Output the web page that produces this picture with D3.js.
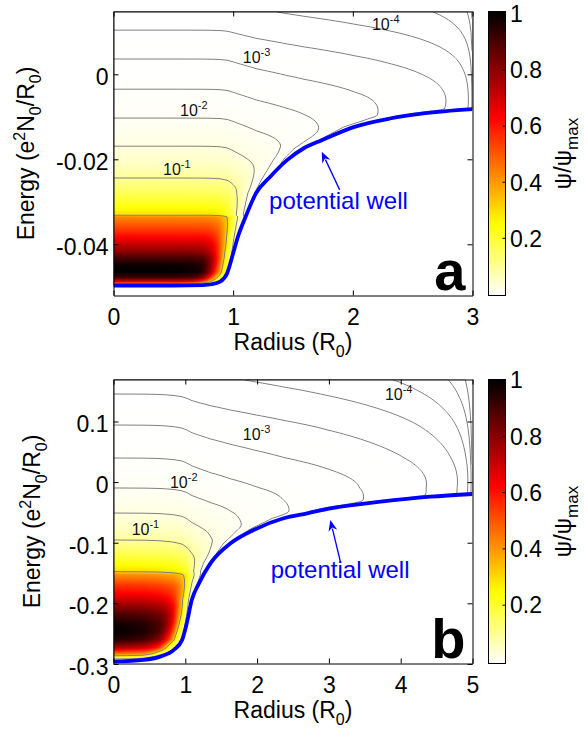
<!DOCTYPE html>
<html>
<head>
<meta charset="utf-8">
<script src="https://cdn.jsdelivr.net/npm/d3@7"></script>
<style>
  body { margin: 0; background: #fff; }
  svg { display: block; }
  text { font-family: "Liberation Sans", Arial, sans-serif; }
</style>
</head>
<body>
<svg id="fig" width="584" height="732"></svg>
<script>
// ---------------- data ----------------
const radiusTicksA = [0, 1, 2, 3];
const energyTicksA = [-0.04, -0.02, 0];
const radiusTicksB = [0, 1, 2, 3, 4, 5];
const energyTicksB = [-0.3, -0.2, -0.1, 0, 0.1];
const colorbarTicks = [0.2, 0.4, 0.6, 0.8, 1];
// contour levels, log10(psi/psi_max)
const contourLevels = [-5.5, -5, -4.5, -4, -3.5, -3, -2.5, -2, -1.5, -1, -0.5];
const labelledExponents = [-4, -3, -2, -1];

// potential well V(r): [radius (R0), energy (e^2 N0 / R0)]
const wellA = [
  [0, -0.0497], [0.5, -0.0497], [0.75, -0.0496], [0.82, -0.0494], [0.89, -0.0488],
  [0.95, -0.0468], [1.0, -0.0421], [1.04, -0.0382], [1.11, -0.0331], [1.19, -0.0280],
  [1.31, -0.0241], [1.45, -0.0202], [1.59, -0.0174], [1.74, -0.0155], [2.02, -0.0123],
  [2.31, -0.0104], [2.59, -0.0092], [3.0, -0.0082]
];
const wellB = [
  [0, -0.2964], [0.42, -0.2935], [0.65, -0.2880], [0.84, -0.2770], [0.955, -0.2606],
  [1.02, -0.2330], [1.09, -0.1946], [1.19, -0.1670], [1.35, -0.1340], [1.63, -0.1010],
  [1.95, -0.0790], [2.37, -0.0597], [2.7, -0.0515], [3.02, -0.0433], [3.72, -0.0323],
  [4.41, -0.0241], [5.0, -0.0196]
];

// psi/psi_max along the axis r = 0: [energy, psi]
const profileA = [
  [0.0172, 1e-4], [0.0104, 3.16e-4], [0.0036, 1e-3], [-0.0035, 3.16e-3], [-0.0103, 1e-2],
  [-0.0169, 3.16e-2], [-0.0244, 0.1], [-0.0272, 0.15], [-0.0296, 0.2], [-0.0319, 0.26],
  [-0.0331, 0.30], [-0.0335, 0.42], [-0.0355, 0.5], [-0.0378, 0.6], [-0.0402, 0.72],
  [-0.0418, 0.8], [-0.0432, 0.9], [-0.0449, 0.98], [-0.0465, 1.0], [-0.0479, 0.9],
  [-0.0489, 0.65], [-0.0493, 0.35], [-0.0497, 0.01]
];
const profileB = [
  [0.197, 1e-4], [0.1454, 3.16e-4], [0.0942, 1e-3], [0.0398, 3.16e-3], [-0.0097, 1e-2],
  [-0.0510, 3.16e-2], [-0.0955, 0.1], [-0.1203, 0.18], [-0.1368, 0.25], [-0.1467, 0.30],
  [-0.1532, 0.42], [-0.1698, 0.55], [-0.1863, 0.65], [-0.2028, 0.78], [-0.2193, 0.9],
  [-0.2358, 0.98], [-0.2474, 1.0], [-0.2606, 0.95], [-0.2738, 0.75], [-0.2837, 0.45],
  [-0.2903, 0.2], [-0.2964, 0.01]
];

// ---------------- layout ----------------
const panels = [
  {
    letter: "a", well: wellA, profile: profileA, rTicks: radiusTicksA, eTicks: energyTicksA,
    rMax: 3, eDomain: [-0.05205, 0.01478],
    box: { x0: 113.5, x1: 472.5, y0: 11.5, y1: 295.5 },
    falloff: { p: 0.6, c: 0.005, s: 55, uc: 0.005, us: 0.0018,
               r0: 0.95, soft: 0.08, q: 0.575, wr: 0.13, floor: 0.3 },
    labelAt: [[2.16, 0.0104], [1.08, 0.0027], [0.556, -0.0099], [0.414, -0.0237]],
    wellTextAt: [1.30, -0.0317], arrowFrom: [1.89, -0.0272], arrowTo: [1.74, -0.0182],
    ylabelX: 34, xlabelY: 350, cbRange: [294.4, 14]
  },
  {
    letter: "b", well: wellB, profile: profileB, rTicks: radiusTicksB, eTicks: energyTicksB,
    rMax: 5, eDomain: [-0.2993, 0.1693],
    box: { x0: 113.5, x1: 472.5, y0: 379.5, y1: 663.5 },
    falloff: { p: 0.65, c: 0.03, s: 7.5, uc: 0.035, us: 0.014,
               r0: 0.75, soft: 0.1, q: 0.95, wr: 0.17, floor: 0.3 },
    labelAt: [[3.78, 0.1355], [1.80, 0.0695], [0.786, -0.0097], [0.253, -0.0873]],
    wellTextAt: [2.19, -0.1583], arrowFrom: [3.16, -0.1314], arrowTo: [3.02, -0.0625],
    ylabelX: 40, xlabelY: 718, cbRange: [661.5, 380]
  }
];

const FONT = 23;
const BLUE = "#0000ff";
const svg = d3.select("#fig");
svg.append("rect").attr("width", 584).attr("height", 732).attr("fill", "#fff");
const defs = svg.append("defs");

// reversed "hot" colour map: 0 -> white, 1 -> black
function hotRGB(v) {
  const s = 1 - Math.max(0, Math.min(1, v));
  const c = x => Math.round(255 * Math.max(0, Math.min(1, x)));
  return [c(s / 0.375), c((s - 0.375) / 0.375), c((s - 0.75) / 0.25)];
}
const hotCss = v => { const [r, g, b] = hotRGB(v); return `rgb(${r},${g},${b})`; };

// log10 psi(r, E): the axis profile, reduced with the height u above the well,
// the approach to the outer boundary and, near the steep wall, the distance to it
function densityModel(P) {
  const V = d3.scaleLinear().domain(P.well.map(d => d[0])).range(P.well.map(d => d[1])).clamp(true);
  const inc = [];
  P.well.forEach(d => {
    if (!inc.length || d[1] > inc[inc.length - 1][1]) inc.push(d);
    else if (d[1] === inc[inc.length - 1][1]) inc[inc.length - 1] = d;
  });
  const rInv = d3.scaleLinear().domain(inc.map(d => d[1])).range(inc.map(d => d[0])).clamp(true);
  const eRim = P.well[P.well.length - 1][1];
  const prof = P.profile.slice().sort((a, b) => a[0] - b[0]);
  const logP = d3.scaleLinear().domain(prof.map(d => d[0])).range(prof.map(d => Math.log10(d[1]))).clamp(true);
  const V0 = V(0);
  const { p, c, s, uc, us, r0, soft, q, wr, floor } = P.falloff;
  const span = P.rMax - r0;
  const softplus = (x, w) => w * Math.log1p(Math.exp(x / w));
  return (r, E) => {
    const u = E - V(r);
    if (u <= 0) return -20;
    const u0 = E - V0;
    let L = logP(E);
    L += p * Math.log10((u + c) / (u0 + c));
    L -= s * (softplus(uc - u, us) - softplus(uc - u0, us));
    L += q * Math.log10(Math.max(1e-12, 1 - softplus(r - r0, soft) / span));
    const d = Math.max(0, (E >= eRim ? Infinity : rInv(E)) - r);
    L += Math.log10(floor + (1 - floor) * (1 - Math.exp(-(d / wr) * (d / wr))));
    return Math.max(L, -20);
  };
}

panels.forEach((P, k) => {
  const { x0, x1, y0, y1 } = P.box;
  const W = x1 - x0, H = y1 - y0;
  const xs = d3.scaleLinear().domain([0, P.rMax]).range([x0, x1]);
  const ys = d3.scaleLinear().domain(P.eDomain).range([y1, y0]);
  const g = svg.append("g");

  // sample the field on a pixel grid
  const n = Math.round(W), m = Math.round(H);
  const f = densityModel(P);
  const vals = new Array(n * m);
  for (let j = 0; j < m; j++) {
    const E = P.eDomain[1] - (j + 0.5) / m * (P.eDomain[1] - P.eDomain[0]);
    for (let i = 0; i < n; i++) vals[j * n + i] = f((i + 0.5) / n * P.rMax, E);
  }

  // colour map image
  const cv = document.createElement("canvas");
  cv.width = n; cv.height = m;
  const ctx = cv.getContext("2d");
  const img = ctx.createImageData(n, m);
  for (let t = 0; t < n * m; t++) {
    const [r, gg, b] = hotRGB(Math.pow(10, vals[t]));
    img.data[4 * t] = r; img.data[4 * t + 1] = gg; img.data[4 * t + 2] = b; img.data[4 * t + 3] = 255;
  }
  ctx.putImageData(img, 0, 0);
  g.append("image").attr("x", x0).attr("y", y0).attr("width", W).attr("height", H)
    .attr("preserveAspectRatio", "none").attr("href", cv.toDataURL());

  const clipId = "clip" + k;
  defs.append("clipPath").attr("id", clipId).append("rect")
    .attr("x", x0).attr("y", y0).attr("width", W).attr("height", H);
  const plot = g.append("g").attr("clip-path", `url(#${clipId})`);

  // contour lines
  const contours = d3.contours().size([n, m]).thresholds(contourLevels)(vals);
  const toPx = d3.geoTransform({
    point(x, y) { this.stream.point(x0 + x * W / n, y0 + y * H / m); }
  });
  const cpath = d3.geoPath(toPx);
  plot.append("g").selectAll("path").data(contours).join("path")
    .attr("d", cpath).attr("fill", "none").attr("stroke", "#808080").attr("stroke-width", 1);

  // potential well
  plot.append("path").datum(P.well)
    .attr("d", d3.line().x(d => xs(d[0])).y(d => ys(d[1])).curve(d3.curveMonotoneX))
    .attr("fill", "none").attr("stroke", BLUE).attr("stroke-width", 3.8);

  // contour labels
  labelledExponents.forEach((ex, i) => {
    const [r, e] = P.labelAt[i];
    const t = g.append("text").attr("x", xs(r)).attr("y", ys(e)).attr("font-size", 16).attr("fill", "#111");
    t.append("tspan").text("10");
    t.append("tspan").attr("font-size", 11).attr("dy", -7).text(String(ex));
  });

  // annotation: potential well
  g.append("text").attr("x", xs(P.wellTextAt[0])).attr("y", ys(P.wellTextAt[1]))
    .attr("font-size", 24).attr("fill", BLUE).text("potential well");
  const ax = xs(P.arrowFrom[0]), ay = ys(P.arrowFrom[1]);
  const bx = xs(P.arrowTo[0]), by = ys(P.arrowTo[1]);
  const len = Math.hypot(bx - ax, by - ay), ux = (bx - ax) / len, uy = (by - ay) / len;
  const hl = 11, hw = 4.5;
  g.append("line").attr("x1", ax).attr("y1", ay).attr("x2", bx - ux * hl * 0.8).attr("y2", by - uy * hl * 0.8)
    .attr("stroke", BLUE).attr("stroke-width", 1.3);
  g.append("path").attr("fill", BLUE)
    .attr("d", `M${bx},${by}L${bx - ux * hl - uy * hw},${by - uy * hl + ux * hw}` +
               `L${bx - ux * hl * 0.7},${by - uy * hl * 0.7}` +
               `L${bx - ux * hl + uy * hw},${by - uy * hl - ux * hw}Z`);

  // axes (ticks inside on all four sides)
  const styleAxis = a => {
    a.selectAll("path,line").attr("stroke", "#000").attr("stroke-width", 1);
    a.selectAll("text").attr("font-size", FONT).attr("fill", "#000")
      .attr("font-family", "'Liberation Sans', Arial, sans-serif");
    a.attr("font-size", null).attr("font-family", null);
  };
  const fmt = d => String(d);
  g.append("g").attr("transform", `translate(0,${y1})`)
    .call(d3.axisBottom(xs).tickValues(P.rTicks).tickSize(-5).tickSizeOuter(0).tickPadding(13).tickFormat(fmt))
    .call(styleAxis);
  g.append("g").attr("transform", `translate(0,${y0})`)
    .call(d3.axisTop(xs).tickValues(P.rTicks).tickSize(-5).tickSizeOuter(0).tickFormat(""))
    .call(styleAxis);
  const left = g.append("g").attr("transform", `translate(${x0},0)`)
    .call(d3.axisLeft(ys).tickValues(P.eTicks).tickSize(-5).tickSizeOuter(0).tickPadding(5).tickFormat(fmt))
    .call(styleAxis);
  left.selectAll("text").attr("dy", "0.45em");
  g.append("g").attr("transform", `translate(${x1},0)`)
    .call(d3.axisRight(ys).tickValues(P.eTicks).tickSize(-5).tickSizeOuter(0).tickFormat(""))
    .call(styleAxis);

  // panel letter
  g.append("text").attr("x", x1 - 7).attr("y", y1 - 6).attr("text-anchor", "end")
    .attr("font-size", 56).attr("font-weight", "bold").text(P.letter);

  // axis titles
  const xt = g.append("text").attr("x", (x0 + x1) / 2).attr("y", P.xlabelY)
    .attr("text-anchor", "middle").attr("font-size", FONT);
  xt.append("tspan").text("Radius (R");
  xt.append("tspan").attr("font-size", 16).attr("dy", 7).text("0");
  xt.append("tspan").attr("dy", -7).text(")");

  const yt = g.append("text").attr("transform", `translate(${P.ylabelX},${(y0 + y1) / 2}) rotate(-90)`)
    .attr("text-anchor", "middle").attr("font-size", FONT);
  yt.append("tspan").text("Energy (e");
  yt.append("tspan").attr("font-size", 16).attr("dy", -9).text("2");
  yt.append("tspan").attr("dy", 9).text("N");
  yt.append("tspan").attr("font-size", 16).attr("dy", 7).text("0");
  yt.append("tspan").attr("dy", -7).text("/R");
  yt.append("tspan").attr("font-size", 16).attr("dy", 7).text("0");
  yt.append("tspan").attr("dy", -7).text(")");

  // colour bar
  const gradId = "grad" + k;
  const grad = defs.append("linearGradient").attr("id", gradId)
    .attr("x1", 0).attr("y1", 1).attr("x2", 0).attr("y2", 0);
  d3.range(0, 1.0001, 0.02).forEach(v => grad.append("stop").attr("offset", v).attr("stop-color", hotCss(v)));
  const cbx = 488.5, cbw = 17;
  g.append("rect").attr("x", cbx).attr("y", y0).attr("width", cbw).attr("height", H)
    .attr("fill", `url(#${gradId})`).attr("stroke", "#000").attr("stroke-width", 1);
  const cs = d3.scaleLinear().domain([0, 1]).range(P.cbRange);
  colorbarTicks.forEach(v => {
    g.append("line").attr("x1", cbx + cbw - 3).attr("x2", cbx + cbw).attr("y1", cs(v)).attr("y2", cs(v))
      .attr("stroke", "#000");
    g.append("text").attr("x", 510).attr("y", cs(v)).attr("dy", "0.36em").attr("font-size", FONT)
      .text(String(v));
  });
  const ct = g.append("text").attr("transform", `translate(571,${(y0 + y1) / 2}) rotate(-90)`)
    .attr("text-anchor", "middle").attr("font-size", FONT);
  ct.append("tspan").text("ψ/ψ");
  ct.append("tspan").attr("font-size", 17).attr("dy", 7).text("max");
});
</script>
</body>
</html>
